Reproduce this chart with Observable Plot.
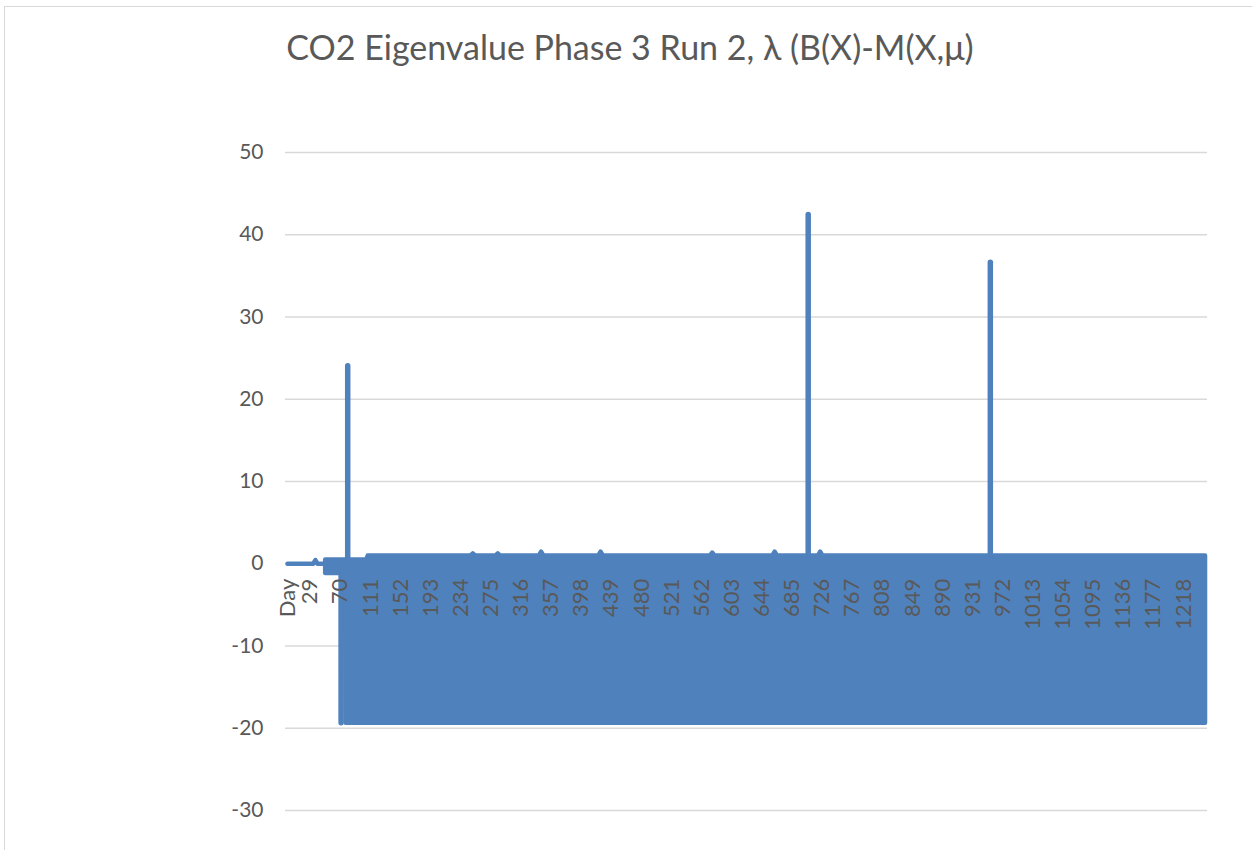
<!DOCTYPE html>
<html>
<head>
<meta charset="utf-8">
<script src="https://cdn.jsdelivr.net/npm/d3@7"></script>
<script src="https://cdn.jsdelivr.net/npm/@observablehq/plot@0.6"></script>
<style>
  html, body { margin: 0; padding: 0; background: #fff; }
  body { width: 1252px; height: 850px; overflow: hidden; position: relative; font-family: Lato, "Open Sans", sans-serif; }
  #frame { position: absolute; left: 4px; top: 6px; width: 1400px; height: 1000px; border: 1.4px solid #D9D9D9; box-sizing: border-box; }
  #title { position: absolute; left: 0; top: 25px; width: 1260px; height: 44px; line-height: 44px; text-align: center; font-size: 34px; font-weight: 400; color: #595959; white-space: nowrap; }
  #chart { position: absolute; left: 0; top: 100px; }
</style>
</head>
<body>
<div id="frame"></div>
<div id="title">CO2 Eigenvalue Phase 3 Run 2, λ (B(X)-M(X,μ)</div>
<div id="chart"></div>
<script>
// ---- data ----
const yTicks = [-30, -20, -10, 0, 10, 20, 30, 40, 50];
const xTickDays = [-2, 29, 70, 111, 152, 193, 234, 275, 316, 357, 398, 439, 480, 521, 562, 603, 644, 685, 726, 767, 808, 849, 890, 931, 972, 1013, 1054, 1095, 1136, 1177, 1218];
const xTickLabels = ["Day", "29", "70", "111", "152", "193", "234", "275", "316", "357", "398", "439", "480", "521", "562", "603", "644", "685", "726", "767", "808", "849", "890", "931", "972", "1013", "1054", "1095", "1136", "1177", "1218"];

// flat start of the series (before the oscillation)
const leadDays   = [-2, 33, 36, 39, 50];
const leadValues = [0, 0, 0.45, 0, 0];

// envelope of the dense oscillating part (upper / lower swing of the series)
const bandDays = [50, 77, 78, 106, 108, 248, 251, 254, 282, 285, 288, 341, 344, 347, 422, 425, 428, 574, 577, 580, 659, 662, 665, 721, 724, 727, 1248];
const bandHigh = [0.45, 0.45, 0.45, 0.45, 0.95, 0.95, 1.2, 0.95, 0.95, 1.2, 0.95, 0.95, 1.4, 0.95, 0.95, 1.4, 0.95, 0.95, 1.3, 0.95, 0.95, 1.4, 0.95, 0.95, 1.4, 0.95, 0.95];
const bandLow  = [-1.2, -1.2, -19.4, -19.4, -19.4, -19.4, -19.4, -19.4, -19.4, -19.4, -19.4, -19.4, -19.4, -19.4, -19.4, -19.4, -19.4, -19.4, -19.4, -19.4, -19.4, -19.4, -19.4, -19.4, -19.4, -19.4, -19.4];

// isolated excursions of the series
const spikeDays  = [71, 80, 707, 955];
const spikeFrom  = [-1, 0.45, 1, 1];
const spikeTo    = [-19.4, 24.0, 42.4, 36.6];

// ---- tables for the library ----
const lead = leadDays.map((d, i) => ({day: d, value: leadValues[i]}));
const band = bandDays.map((d, i) => ({day: d, high: bandHigh[i], low: bandLow[i]}));
const spikes = spikeDays.map((d, i) => ({day: d, from: spikeFrom[i], to: spikeTo[i]}));
const xTicks = xTickDays.map((d, i) => ({day: d, label: xTickLabels[i]}));

const blue = "#4F81BD";
const grey = "#595959";

const chart = Plot.plot({
  width: 1252,
  height: 750,
  marginLeft: 285,
  marginRight: 45,
  marginTop: 52,
  marginBottom: 40,
  x: {type: "linear", domain: [-4.7, 1250.7], axis: null},
  y: {type: "linear", domain: [-30, 50], axis: null},
  style: {fontFamily: "Lato, 'Open Sans', sans-serif", background: "transparent", overflow: "visible"},
  marks: [
    Plot.ruleY(yTicks, {stroke: "#D9D9D9", strokeWidth: 1.3}),
    Plot.text(yTicks, {y: d => d, text: d => String(d), frameAnchor: "left", textAnchor: "end", dx: -22, fill: grey, fontSize: 21}),
    Plot.areaY(band, {x: "day", y1: "low", y2: "high", fill: blue, stroke: blue, strokeWidth: 4.5, strokeLinejoin: "round"}),
    Plot.line(lead, {x: "day", y: "value", stroke: blue, strokeWidth: 4.5, strokeLinecap: "round", strokeLinejoin: "round"}),
    Plot.ruleX(spikes, {x: "day", y1: "from", y2: "to", stroke: blue, strokeWidth: 5.5, strokeLinecap: "round"}),
    Plot.text(xTicks, {x: "day", y: () => 0, text: "label", rotate: -90, textAnchor: "end", dy: 15, fill: grey, fontSize: 22})
  ]
});
document.getElementById("chart").appendChild(chart);
</script>
</body>
</html>
